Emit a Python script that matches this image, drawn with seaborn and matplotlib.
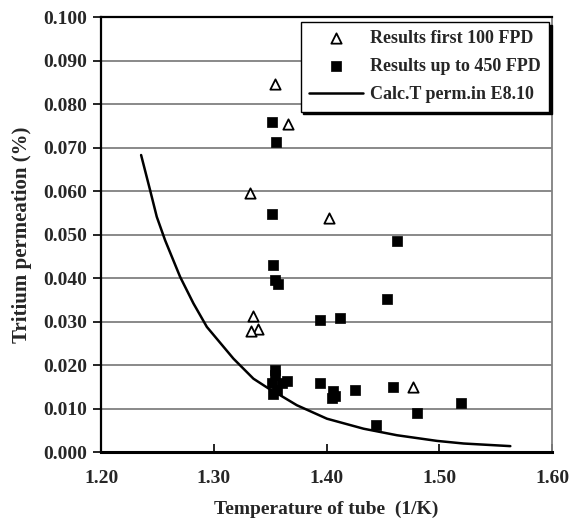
import matplotlib
matplotlib.use("Agg")
import matplotlib.pyplot as plt
import seaborn as sns
import pandas as pd
import numpy as np
from matplotlib.ticker import FormatStrFormatter, MultipleLocator

# ---- data ----
first_x = [1.3544, 1.3657, 1.3322, 1.4017, 1.3346, 1.3390, 1.3331, 1.4766]
first_y = [0.0846, 0.0754, 0.0595, 0.0539, 0.0313, 0.0284, 0.0279, 0.0150]

up_x = [1.3515, 1.3553, 1.3515, 1.4626, 1.3529, 1.3544, 1.3568, 1.4535,
        1.3943, 1.4121, 1.3544, 1.3544, 1.3515, 1.3648, 1.3603, 1.3559,
        1.3529, 1.3943, 1.4061, 1.4070, 1.4047, 1.4248, 1.4585, 1.5192,
        1.4801, 1.4437]
up_y = [0.0758, 0.0712, 0.0548, 0.0486, 0.0430, 0.0395, 0.0386, 0.0353,
        0.0305, 0.0309, 0.0190, 0.0177, 0.0158, 0.0163, 0.0158, 0.0143,
        0.0133, 0.0159, 0.0140, 0.0129, 0.0125, 0.0143, 0.0149, 0.0114,
        0.0090, 0.0062]

calc_x = [1.2355, 1.2435, 1.2494, 1.2568, 1.2701, 1.2819, 1.2938, 1.3174,
          1.3351, 1.3500, 1.3588, 1.3736, 1.4003, 1.4328, 1.4624, 1.4979,
          1.5215, 1.5629]
calc_y = [0.0683, 0.0602, 0.0541, 0.0487, 0.0403, 0.0342, 0.0288, 0.0215,
          0.0169, 0.0144, 0.0131, 0.0108, 0.0077, 0.0054, 0.0039, 0.0026,
          0.0020, 0.0014]

labels = ["Results first 100 FPD", "Results up to 450 FPD", "Calc.T perm.in E8.10"]
x_ticks = [1.20, 1.30, 1.40, 1.50, 1.60]

sns.set_theme(style="white")
plt.rcParams['font.family'] = ['Liberation Serif', 'DejaVu Serif']
plt.rcParams['font.weight'] = 'bold'

fig = plt.figure(figsize=(5.71, 5.18), dpi=100)
ax = fig.add_axes([0.177, 0.127, 0.790, 0.840])

df_first = pd.DataFrame({"x": first_x, "y": first_y})
df_up = pd.DataFrame({"x": up_x, "y": up_y})
df_calc = pd.DataFrame({"x": calc_x, "y": calc_y})

sns.lineplot(data=df_calc, x="x", y="y", ax=ax, color="black", linewidth=1.8,
             label=labels[2], sort=False, zorder=3)
sns.scatterplot(data=df_up, x="x", y="y", ax=ax, marker="s", s=45, color="black",
                edgecolor="black", linewidth=0.5, label=labels[1], zorder=4)
sns.scatterplot(data=df_first, x="x", y="y", ax=ax, marker="^", s=55,
                facecolor="white", edgecolor="black", linewidth=1.3,
                label=labels[0], zorder=5)

ax.set_xlim(1.20, 1.60)
ax.set_ylim(0.0, 0.100)
ax.set_xticks(x_ticks)
ax.yaxis.set_major_locator(MultipleLocator(0.010))
ax.xaxis.set_major_formatter(FormatStrFormatter('%.2f'))
ax.yaxis.set_major_formatter(FormatStrFormatter('%.3f'))
ax.yaxis.grid(True, color="#808080", linewidth=1.3)
ax.xaxis.grid(False)
ax.set_axisbelow(True)

for side in ["left", "top"]:
    ax.spines[side].set_color("black")
    ax.spines[side].set_linewidth(1.6)
ax.spines["bottom"].set_color("black")
ax.spines["bottom"].set_linewidth(2.2)
ax.spines["right"].set_color("#808080")
ax.spines["right"].set_linewidth(1.3)

ax.tick_params(axis="y", direction="out", length=6, width=1.2, color="black",
               left=True, labelsize=14, pad=4)
ax.tick_params(axis="x", direction="in", length=6, width=1.2, color="black",
               bottom=True, labelsize=14, pad=13)
for lab in ax.get_xticklabels() + ax.get_yticklabels():
    lab.set_fontweight("bold")

ax.set_xlabel("Temperature of tube  (1/K)", fontsize=14, fontweight="bold", labelpad=10)
ax.set_ylabel("Tritium permeation (%)", fontsize=15, fontweight="bold", labelpad=8)

h, l = ax.get_legend_handles_labels()
order = [l.index(labels[0]), l.index(labels[1]), l.index(labels[2])]
leg = ax.legend([h[i] for i in order], [l[i] for i in order],
                loc="upper right", bbox_to_anchor=(0.993, 0.989),
                frameon=True, fancybox=False, edgecolor="black",
                shadow={"color": "black", "alpha": 1.0},
                prop={"family": "Liberation Serif", "weight": "bold", "size": 13},
                handlelength=3.0, handletextpad=0.4, borderpad=0.45,
                labelspacing=0.62, borderaxespad=0.0)
leg.get_frame().set_linewidth(1.0)
leg.get_frame().set_alpha(1.0)

fig.savefig("out.png", dpi=100)
